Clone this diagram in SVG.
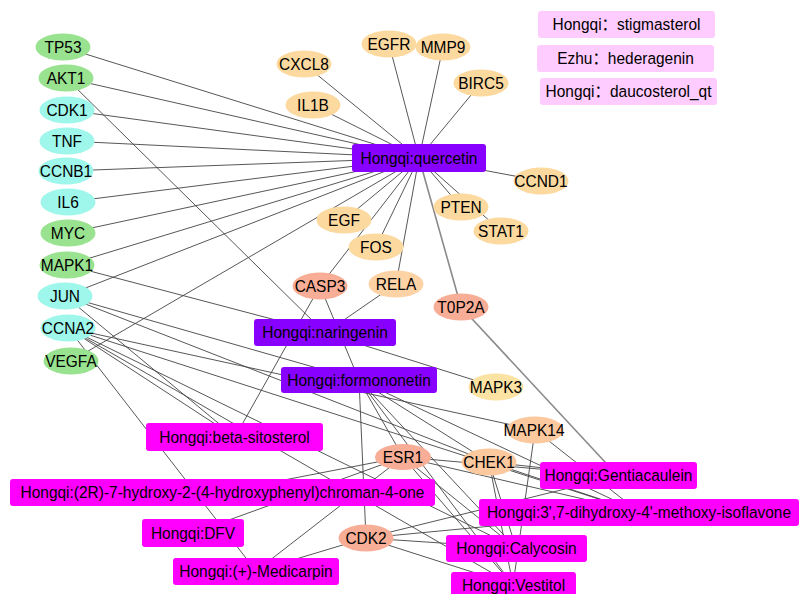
<svg xmlns="http://www.w3.org/2000/svg" width="799" height="594" viewBox="0 0 799 594">
<style>
text{font-family:"Liberation Sans","Noto Sans CJK SC",Arial,sans-serif;font-size:16.3px;fill:#000;text-anchor:middle;dominant-baseline:central}
.e line{stroke:#444;stroke-width:0.9}
.e line.g{stroke:#8a8a8a;stroke-width:1.6}
.gr{fill:#99e28f}.cy{fill:#9ef7ea}.pe{fill:#fcd99f}.sa{fill:#f8ae96}.or{fill:#fcc89e}.ye{fill:#fde3a3}
.pu{fill:#8800ff}.mg{fill:#ff00ff}.lg{fill:#ffccff}
</style>
<rect width="799" height="594" fill="#fff"/>
<g id="edges" class="e">
<line x1="419" y1="158" x2="63" y2="47"/>
<line x1="419" y1="158" x2="66" y2="78"/>
<line x1="419" y1="158" x2="67" y2="110"/>
<line x1="419" y1="158" x2="67" y2="141"/>
<line x1="419" y1="158" x2="66" y2="171"/>
<line x1="419" y1="158" x2="68" y2="202"/>
<line x1="419" y1="158" x2="68" y2="233"/>
<line x1="419" y1="158" x2="67" y2="265"/>
<line x1="419" y1="158" x2="65" y2="296"/>
<line x1="419" y1="158" x2="71" y2="361"/>
<line x1="419" y1="158" x2="304" y2="64"/>
<line x1="419" y1="158" x2="389" y2="44"/>
<line x1="419" y1="158" x2="443" y2="47"/>
<line x1="419" y1="158" x2="481" y2="83"/>
<line x1="419" y1="158" x2="313" y2="105"/>
<line x1="419" y1="158" x2="541" y2="181"/>
<line x1="419" y1="158" x2="461" y2="207"/>
<line x1="419" y1="158" x2="501" y2="231"/>
<line x1="419" y1="158" x2="344" y2="220"/>
<line x1="419" y1="158" x2="376" y2="247"/>
<line x1="419" y1="158" x2="320" y2="286"/>
<line x1="419" y1="158" x2="396" y2="284"/>
<line class="g" x1="419" y1="158" x2="461" y2="307"/>
<line class="g" x1="461" y1="307" x2="618" y2="476"/>
<line x1="325" y1="333" x2="66" y2="78"/>
<line x1="325" y1="333" x2="67" y2="265"/>
<line x1="325" y1="333" x2="396" y2="284"/>
<line x1="325" y1="333" x2="496" y2="387"/>
<line x1="359" y1="380" x2="65" y2="296"/>
<line x1="359" y1="380" x2="320" y2="286"/>
<line x1="359" y1="380" x2="403" y2="457"/>
<line x1="359" y1="380" x2="366" y2="538"/>
<line x1="359" y1="380" x2="489" y2="462"/>
<line x1="359" y1="380" x2="516" y2="548"/>
<line x1="359" y1="380" x2="513" y2="585"/>
<line x1="359" y1="380" x2="639" y2="512"/>
<line x1="235" y1="437" x2="320" y2="286"/>
<line x1="235" y1="437" x2="65" y2="296"/>
<line x1="235" y1="437" x2="68" y2="328"/>
<line x1="68" y1="328" x2="535" y2="430"/>
<line x1="68" y1="328" x2="516" y2="548"/>
<line x1="68" y1="328" x2="513" y2="585"/>
<line x1="68" y1="328" x2="256" y2="571"/>
<line x1="68" y1="328" x2="639" y2="512"/>
<line x1="65" y1="296" x2="489" y2="462"/>
<line x1="403" y1="457" x2="222" y2="492"/>
<line x1="403" y1="457" x2="193" y2="533"/>
<line x1="403" y1="457" x2="256" y2="571"/>
<line x1="403" y1="457" x2="516" y2="548"/>
<line x1="403" y1="457" x2="513" y2="585"/>
<line x1="403" y1="457" x2="618" y2="476"/>
<line x1="403" y1="457" x2="639" y2="512"/>
<line x1="489" y1="462" x2="618" y2="476"/>
<line x1="489" y1="462" x2="516" y2="548"/>
<line x1="489" y1="462" x2="513" y2="585"/>
<line x1="489" y1="462" x2="639" y2="512"/>
<line x1="366" y1="538" x2="256" y2="571"/>
<line x1="366" y1="538" x2="618" y2="476"/>
<line x1="366" y1="538" x2="639" y2="512"/>
<line x1="366" y1="538" x2="516" y2="548"/>
<line x1="366" y1="538" x2="513" y2="585"/>
<line x1="535" y1="430" x2="639" y2="512"/>
<line x1="535" y1="430" x2="513" y2="585"/>
</g>
<g id="TP53"><ellipse class="gr" cx="63" cy="47" rx="27.5" ry="13.5"/><text transform="translate(63 47) scale(0.95 1)">TP53</text></g>
<g id="AKT1"><ellipse class="gr" cx="66" cy="78" rx="27.5" ry="13.5"/><text transform="translate(66 78) scale(0.95 1)">AKT1</text></g>
<g id="CDK1"><ellipse class="cy" cx="67" cy="110" rx="27.5" ry="13.5"/><text transform="translate(67 110) scale(0.95 1)">CDK1</text></g>
<g id="TNF"><ellipse class="cy" cx="67" cy="141" rx="27.5" ry="13.5"/><text transform="translate(67 141) scale(0.95 1)">TNF</text></g>
<g id="CCNB1"><ellipse class="cy" cx="66" cy="171" rx="27.5" ry="13.5"/><text transform="translate(66 171) scale(0.95 1)">CCNB1</text></g>
<g id="IL6"><ellipse class="cy" cx="68" cy="202" rx="27.5" ry="13.5"/><text transform="translate(68 202) scale(0.95 1)">IL6</text></g>
<g id="MYC"><ellipse class="gr" cx="68" cy="233" rx="27.5" ry="13.5"/><text transform="translate(68 233) scale(0.95 1)">MYC</text></g>
<g id="MAPK1"><ellipse class="gr" cx="67" cy="265" rx="27.5" ry="13.5"/><text transform="translate(67 265) scale(0.95 1)">MAPK1</text></g>
<g id="JUN"><ellipse class="cy" cx="65" cy="296" rx="27.5" ry="13.5"/><text transform="translate(65 296) scale(0.95 1)">JUN</text></g>
<g id="CCNA2"><ellipse class="cy" cx="68" cy="328" rx="27.5" ry="13.5"/><text transform="translate(68 328) scale(0.95 1)">CCNA2</text></g>
<g id="VEGFA"><ellipse class="gr" cx="71" cy="361" rx="27.5" ry="13.5"/><text transform="translate(71 361) scale(0.95 1)">VEGFA</text></g>
<g id="CXCL8"><ellipse class="pe" cx="304" cy="64" rx="27.5" ry="13.5"/><text transform="translate(304 64) scale(0.95 1)">CXCL8</text></g>
<g id="EGFR"><ellipse class="pe" cx="389" cy="44" rx="27.5" ry="13.5"/><text transform="translate(389 44) scale(0.95 1)">EGFR</text></g>
<g id="MMP9"><ellipse class="pe" cx="443" cy="47" rx="27.5" ry="13.5"/><text transform="translate(443 47) scale(0.95 1)">MMP9</text></g>
<g id="BIRC5"><ellipse class="pe" cx="481" cy="83" rx="27.5" ry="13.5"/><text transform="translate(481 83) scale(0.95 1)">BIRC5</text></g>
<g id="IL1B"><ellipse class="pe" cx="313" cy="105" rx="27.5" ry="13.5"/><text transform="translate(313 105) scale(0.95 1)">IL1B</text></g>
<g id="CCND1"><ellipse class="pe" cx="541" cy="181" rx="27.5" ry="13.5"/><text transform="translate(541 181) scale(0.95 1)">CCND1</text></g>
<g id="PTEN"><ellipse class="pe" cx="461" cy="207" rx="27.5" ry="13.5"/><text transform="translate(461 207) scale(0.95 1)">PTEN</text></g>
<g id="STAT1"><ellipse class="pe" cx="501" cy="231" rx="27.5" ry="13.5"/><text transform="translate(501 231) scale(0.95 1)">STAT1</text></g>
<g id="EGF"><ellipse class="pe" cx="344" cy="220" rx="27.5" ry="13.5"/><text transform="translate(344 220) scale(0.95 1)">EGF</text></g>
<g id="FOS"><ellipse class="pe" cx="376" cy="247" rx="27.5" ry="13.5"/><text transform="translate(376 247) scale(0.95 1)">FOS</text></g>
<g id="CASP3"><ellipse class="sa" cx="320" cy="286" rx="27.5" ry="13.5"/><text transform="translate(320 286) scale(0.95 1)">CASP3</text></g>
<g id="RELA"><ellipse fill="#fdd2a4" cx="396" cy="284" rx="27.5" ry="13.5"/><text transform="translate(396 284) scale(0.95 1)">RELA</text></g>
<g id="T0P2A"><ellipse class="sa" cx="461" cy="307" rx="27.5" ry="13.5"/><text transform="translate(461 307) scale(0.95 1)">T0P2A</text></g>
<g id="MAPK3"><ellipse class="ye" cx="496" cy="387" rx="27.5" ry="13.5"/><text transform="translate(496 387) scale(0.95 1)">MAPK3</text></g>
<g id="MAPK14"><ellipse class="or" cx="535" cy="430" rx="28.5" ry="13.5"/><text transform="translate(534 430) scale(0.95 1)">MAPK14</text></g>
<g id="CHEK1"><ellipse class="or" cx="489" cy="462" rx="27.5" ry="13.5"/><text transform="translate(489 462) scale(0.95 1)">CHEK1</text></g>
<g id="ESR1"><ellipse class="sa" cx="403" cy="457" rx="28" ry="13"/><text transform="translate(403 457) scale(0.95 1)">ESR1</text></g>
<g id="CDK2"><ellipse class="sa" cx="366" cy="538" rx="27.5" ry="13.5"/><text transform="translate(366 538) scale(0.95 1)">CDK2</text></g>
<g id="quercetin"><rect class="pu" x="352" y="144" width="134" height="28" rx="3"/><text transform="translate(419 158) scale(0.95 1)">Hongqi:quercetin</text></g>
<g id="naringenin"><rect class="pu" x="254" y="319" width="142" height="27" rx="3"/><text transform="translate(325 332.5) scale(0.95 1)">Hongqi:naringenin</text></g>
<g id="formononetin"><rect class="pu" x="281" y="367" width="156" height="26" rx="3"/><text transform="translate(359 380) scale(0.95 1)">Hongqi:formononetin</text></g>
<g id="beta-sitosterol"><rect class="mg" x="146" y="423" width="177" height="28" rx="3"/><text transform="translate(234.5 437) scale(0.95 1)">Hongqi:beta-sitosterol</text></g>
<g id="chromanone"><rect class="mg" x="10" y="479" width="425" height="27" rx="3"/><text transform="translate(222.5 492.5) scale(0.95 1)">Hongqi:(2R)-7-hydroxy-2-(4-hydroxyphenyl)chroman-4-one</text></g>
<g id="DFV"><rect class="mg" x="142" y="519" width="102" height="28" rx="3"/><text transform="translate(193 533) scale(0.95 1)">Hongqi:DFV</text></g>
<g id="Medicarpin"><rect class="mg" x="173" y="558" width="166" height="27" rx="3"/><text transform="translate(256 571.5) scale(0.95 1)">Hongqi:(+)-Medicarpin</text></g>
<g id="Gentiacaulein"><rect class="mg" x="540" y="462" width="157" height="27" rx="3"/><text transform="translate(618.5 475.5) scale(0.95 1)">Hongqi:Gentiacaulein</text></g>
<g id="isoflavone"><rect class="mg" x="479" y="499" width="320" height="27" rx="3"/><text transform="translate(639 512.5) scale(0.95 1)">Hongqi:3',7-dihydroxy-4'-methoxy-isoflavone</text></g>
<g id="Calycosin"><rect class="mg" x="446" y="535" width="141" height="27" rx="3"/><text transform="translate(516.5 548.5) scale(0.95 1)">Hongqi:Calycosin</text></g>
<g id="Vestitol"><rect class="mg" x="451" y="572" width="125" height="27" rx="3"/><text transform="translate(513.5 585.5) scale(0.95 1)">Hongqi:Vestitol</text></g>
<g id="stigmasterol"><rect class="lg" x="538" y="11" width="177" height="27" rx="3"/><text transform="translate(626.5 24.5) scale(0.95 1)">Hongqi：stigmasterol</text></g>
<g id="hederagenin"><rect class="lg" x="537" y="45" width="177" height="27" rx="3"/><text transform="translate(625.5 58.5) scale(0.95 1)">Ezhu：hederagenin</text></g>
<g id="daucosterol"><rect class="lg" x="540" y="78" width="177" height="27" rx="3"/><text transform="translate(628.5 91.5) scale(0.95 1)">Hongqi：daucosterol_qt</text></g>
</svg>
